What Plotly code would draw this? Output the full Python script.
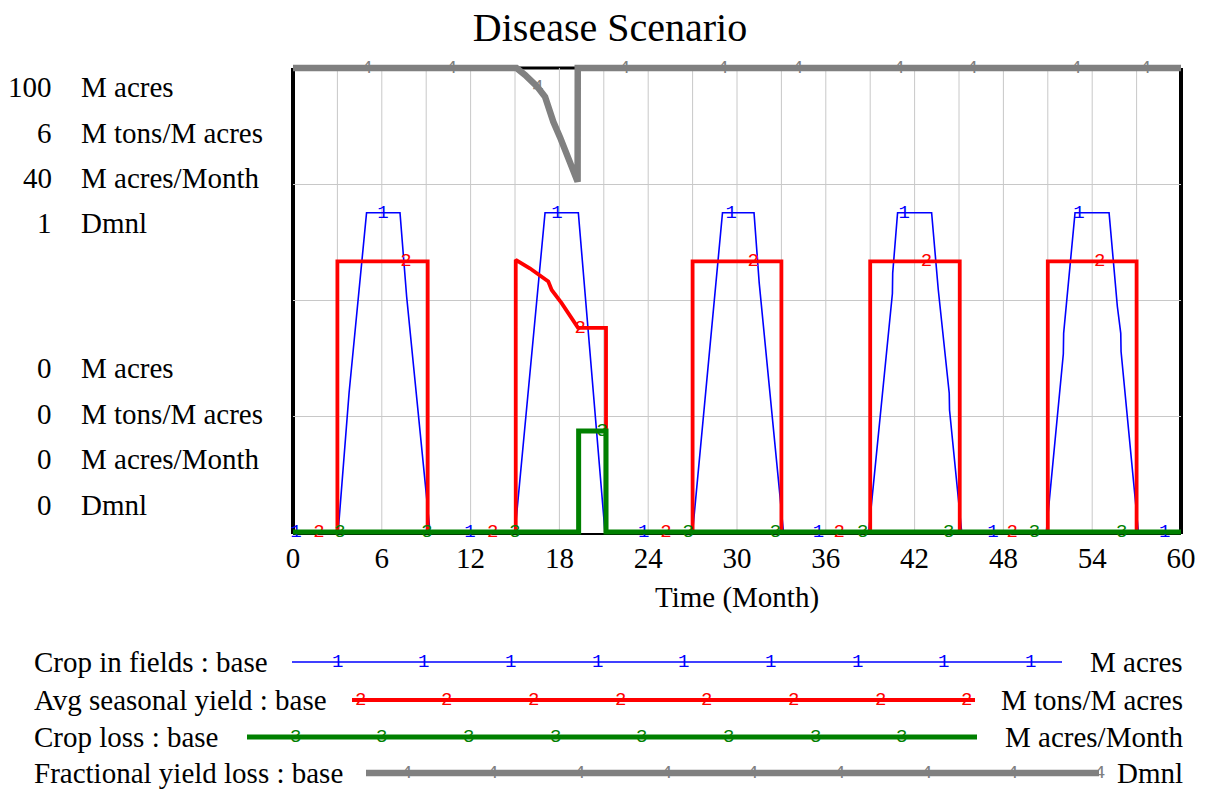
import numpy as np
import plotly.graph_objects as go

# ---------------- data ----------------
TITLE = "Disease Scenario"
X_TITLE = "Time (Month)"
time_ticks = [0, 6, 12, 18, 24, 30, 36, 42, 48, 54, 60]
time_range = [0, 60]

series_names = ["Crop in fields : base", "Avg seasonal yield : base",
                "Crop loss : base", "Fractional yield loss : base"]
series_units = ["M acres", "M tons/M acres", "M acres/Month", "Dmnl"]
axis_max = [100, 6, 40, 1]
axis_min = [0, 0, 0, 0]
axis_max_labels = ["100", "6", "40", "1"]
axis_min_labels = ["0", "0", "0", "0"]
series_colors = ["#0000ff", "#ff0000", "#008000", "#808080"]
marker_labels = ["1", "2", "3", "4"]

# Crop in fields (M acres)
crop_time = [0, 3.05, 3.79, 4.97, 7.23, 7.59, 7.68, 9.26,
             15.0, 17.03, 19.28, 21.08,
             27.0, 29.02, 31.15, 31.5, 33.14,
             38.9, 40.5, 40.52, 40.85, 43.15, 43.6, 44.34, 44.36, 45.18,
             50.9, 52.05, 52.07, 52.84, 55.14, 55.7, 55.93, 55.95, 57.12, 60]
crop_value = [0, 0, 30.0, 68.8, 68.8, 55.0, 50.7, 0,
              0, 68.8, 68.8, 0,
              0, 68.8, 68.8, 53.7, 0,
              0, 51.4, 55.8, 68.8, 68.8, 52.2, 29.9, 26.3, 0,
              0, 38.4, 42.8, 68.8, 68.8, 48.6, 42.8, 38.9, 0, 0]

# Avg seasonal yield (M tons/M acres)
yield_time = [0, 3.0, 3.0, 9.1, 9.1,
              15.05, 15.05, 16.0, 17.25, 17.48, 18.15, 18.7, 19.26, 21.15, 21.15,
              27.0, 27.0, 33.0, 33.0, 39.0, 39.0, 45.05, 45.05,
              51.0, 51.0, 57.0, 57.0, 60]
yield_value = [0, 0, 3.5, 3.5, 0,
               0, 3.52, 3.41, 3.24, 3.13, 2.96, 2.79, 2.64, 2.64, 0,
               0, 3.5, 3.5, 0, 0, 3.5, 3.5, 0,
               0, 3.5, 3.5, 0, 0]

# Crop loss (M acres/Month)
loss_time = [0, 19.3, 19.3, 21.15, 21.15, 60]
loss_value = [0, 0, 8.7, 8.7, 0, 0]

# Fractional yield loss (Dmnl)
frac_time = [0, 15.1, 15.68, 16.47, 17.03, 17.25, 17.59, 18.04, 18.49, 18.94,
             19.23, 19.24, 60]
frac_value = [1, 1, 0.985, 0.961, 0.938, 0.913, 0.884, 0.851, 0.816, 0.782,
              0.755, 1, 1]

# times at which the series number labels sit on the curves
marker_times = [
    [0.2, 6.08, 11.96, 17.84, 23.7, 29.6, 35.5, 41.3, 47.3, 53.1, 58.9],
    [1.76, 7.64, 13.5, 19.4, 25.2, 31.1, 36.9, 42.8, 48.6, 54.5],
    [3.18, 9.05, 15.0, 20.9, 26.7, 32.6, 38.5, 44.3, 50.1, 56.0],
    [5.0, 10.7, 16.55, 22.4, 29.05, 34.1, 40.95, 45.9, 52.9, 57.6],
]

series_time = [crop_time, yield_time, loss_time, frac_time]
series_value = [crop_value, yield_value, loss_value, frac_value]

# ---------------- layout geometry (pixels) ----------------
W, H = 1207, 793
PL, PR = 293, 1181          # plot left/right (time 0 / 60)
PT_DATA, PB_DATA = 68, 532  # pixel of axis max / axis min
PAD_T, PAD_B = 8, 4
PT, PB = PT_DATA - PAD_T, PB_DATA + PAD_B
FONT = "Liberation Serif"
MONO = "Liberation Mono"
FS = 29
MFS = 19


def px_x(p):
    return (p - PL) / (PR - PL)


def px_y(p):
    return (PB - p) / (PB - PT)


def padded_range(lo, hi):
    per_px = (hi - lo) / (PB_DATA - PT_DATA)
    return [lo - PAD_B * per_px, hi + PAD_T * per_px]


fig = go.Figure()

line_widths = [1.6, 3.8, 5, 6.5]
draw_order = [2, 1, 0, 3]
axis_ids = ["y", "y2", "y3", "y4"]

for i in draw_order:
    fig.add_trace(go.Scatter(
        x=series_time[i], y=series_value[i], mode="lines",
        line=dict(color=series_colors[i], width=line_widths[i]),
        yaxis=axis_ids[i], showlegend=False, hoverinfo="skip"))

for i in range(4):
    mt = np.array(marker_times[i])
    mv = np.interp(mt, series_time[i], series_value[i])
    fig.add_trace(go.Scatter(
        x=mt, y=mv, mode="text", text=[marker_labels[i]] * len(mt),
        textposition="middle center", cliponaxis=False,
        textfont=dict(family=MONO, size=MFS, color=series_colors[i]),
        yaxis=axis_ids[i], showlegend=False, hoverinfo="skip"))

shapes = []
# vertical grid lines every 3 months
for t in np.arange(3, 60, 3):
    shapes.append(dict(type="line", xref="x", yref="y", x0=t, x1=t,
                       y0=axis_min[0], y1=axis_max[0], layer="below",
                       line=dict(color="#c8c8c8", width=1)))
# frame (paper coordinates so that thick edges are not clipped)
f_top, f_bot = px_y(PT_DATA), px_y(PB_DATA + 2)
frame = [
    (0, f_bot, 0, f_top, 4),
    (1, f_bot, 1, f_top, 4),
    (0, f_top, 1, f_top, 3),
    (0, f_bot, 1, f_bot, 2),
]
for x0, y0, x1, y1, w in frame:
    shapes.append(dict(type="line", xref="paper", yref="paper", x0=x0, x1=x1,
                       y0=y0, y1=y1, layer="between",
                       line=dict(color="black", width=w)))

annotations = []
# left scale labels
top_rows = [87, 133, 178, 223]
bot_rows = [368, 414, 459, 505]
for i in range(4):
    for row, lab in ((top_rows[i], axis_max_labels[i]), (bot_rows[i], axis_min_labels[i])):
        annotations.append(dict(xref="paper", yref="paper", x=px_x(54), y=px_y(row),
                                text=lab, showarrow=False, xanchor="right", yanchor="middle",
                                font=dict(family=FONT, size=FS, color="black")))
        annotations.append(dict(xref="paper", yref="paper", x=px_x(79), y=px_y(row),
                                text=series_units[i], showarrow=False, xanchor="left",
                                yanchor="middle",
                                font=dict(family=FONT, size=FS, color="black")))

# legend block
leg_rows = [662, 700, 737, 773]
leg_line_start = [292, 352, 247, 366]
leg_line_end = [1062, 975, 977, 1099]
leg_marker_first = [337, 360, 295, 406]
leg_marker_count = [9, 8, 8, 9]
leg_step = 86.7
for i in range(4):
    y = px_y(leg_rows[i])
    annotations.append(dict(xref="paper", yref="paper", x=px_x(32), y=y,
                            text=series_names[i], showarrow=False, xanchor="left",
                            yanchor="middle", font=dict(family=FONT, size=FS, color="black")))
    annotations.append(dict(xref="paper", yref="paper", x=px_x(1185), y=y,
                            text=series_units[i], showarrow=False, xanchor="right",
                            yanchor="middle", font=dict(family=FONT, size=FS, color="black")))
    shapes.append(dict(type="line", xref="paper", yref="paper",
                       x0=px_x(leg_line_start[i]), x1=px_x(leg_line_end[i]), y0=y, y1=y,
                       line=dict(color=series_colors[i], width=line_widths[i])))
    for k in range(leg_marker_count[i]):
        annotations.append(dict(xref="paper", yref="paper",
                                x=px_x(leg_marker_first[i] + k * leg_step), y=y,
                                text=marker_labels[i], showarrow=False,
                                xanchor="center", yanchor="middle",
                                font=dict(family=MONO, size=MFS, color=series_colors[i])))

hidden = dict(visible=False, overlaying="y", fixedrange=True)
fig.update_layout(
    width=W, height=H,
    margin=dict(l=PL, r=W - PR, t=PT, b=H - PB, pad=0),
    paper_bgcolor="white", plot_bgcolor="white",
    title=dict(text=TITLE, x=610 / W, xref="container", xanchor="center",
               y=1 - 27 / H, yref="container", yanchor="middle",
               font=dict(family=FONT, size=40, color="black")),
    xaxis=dict(range=time_range, tickvals=time_ticks, showgrid=False, zeroline=False,
               showline=False, ticks="", ticklabelstandoff=2,
               tickfont=dict(family=FONT, size=FS, color="black"),
               title=dict(text=X_TITLE, font=dict(family=FONT, size=FS, color="black"),
                          standoff=13)),
    yaxis=dict(range=padded_range(axis_min[0], axis_max[0]), tickvals=[25, 50, 75],
               showgrid=True, gridcolor="#c8c8c8", gridwidth=1, showticklabels=False,
               zeroline=False, showline=False, ticks=""),
    yaxis2=dict(range=padded_range(axis_min[1], axis_max[1]), **hidden),
    yaxis3=dict(range=padded_range(axis_min[2], axis_max[2]), **hidden),
    yaxis4=dict(range=padded_range(axis_min[3], axis_max[3]), **hidden),
    shapes=shapes, annotations=annotations, showlegend=False,
)

fig.write_html("out.html", config={"displayModeBar": False},
               post_script="document.body.style.margin='0px';"
                           "document.body.style.padding='0px';")
